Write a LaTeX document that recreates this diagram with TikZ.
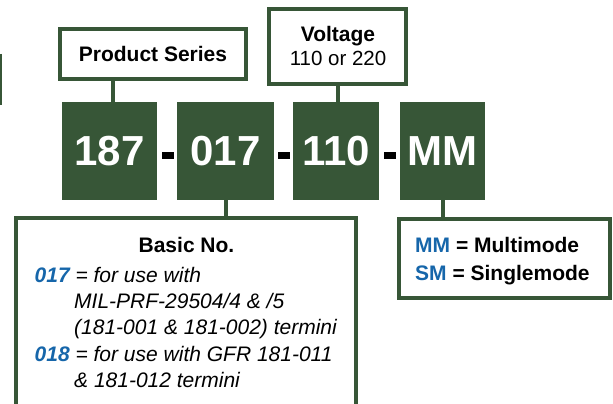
\documentclass[tikz,border=0pt]{standalone}
\usepackage{fontspec}
\setmainfont{Liberation Sans}
\definecolor{dg}{RGB}{55,86,55}
\definecolor{cb}{RGB}{22,102,170}
\begin{document}
\begin{tikzpicture}[x=1pt,y=-1pt,
 wbox/.style={draw=dg,line width=4pt,fill=white,inner sep=0pt},
 gbox/.style={fill=dg,draw=none,inner sep=0pt,minimum height=98pt,text=white,font=\fontsize{42}{42}\selectfont\bfseries},
 conn/.style={draw=dg,line width=4pt},
 dashbox/.style={fill=black,draw=none,inner sep=0pt,minimum width=12pt,minimum height=7pt},
 lbl/.style={font=\fontsize{21}{25}\selectfont\bfseries,inner sep=0pt},
 reg/.style={font=\fontsize{20.5}{25}\selectfont,inner sep=0pt},
 itl/.style={font=\fontsize{21}{25}\selectfont\itshape,inner sep=0pt,anchor=base west},
]
\useasboundingbox (0,0) rectangle (613,404);
% stray edge at far left
\draw[dg,line width=2pt] (1,54) -- (1,105);

% top label boxes
\node[wbox,minimum width=186pt,minimum height=50pt] (ps) at (153,54) {};
\node[lbl,anchor=base] (pst) at (153,62) {Product Series};
\node[wbox,minimum width=137pt,minimum height=75pt] (vb) at (337.5,46.5) {};
\node[lbl,anchor=base] (vt1) at (338,42) {Voltage};
\node[reg,anchor=base] (vt2) at (338,66) {110 or 220};

% part number boxes
\node[gbox,minimum width=95pt] (b1) at (109.5,151) {187};
\node[gbox,minimum width=97pt] (b2) at (225.5,151) {017};
\node[gbox,minimum width=86pt] (b3) at (336,151) {110};
\node[gbox,minimum width=85pt] (b4) at (442.5,151) {MM};
\node[dashbox] (d1) at (168,155.5) {};
\node[dashbox] (d2) at (284,155.5) {};
\node[dashbox] (d3) at (390,155.5) {};

% bottom boxes
\node[inner sep=0pt,minimum width=340pt,minimum height=190pt] (bn) at (186,313) {};
\draw[conn,fill=white] (bn.south west) -- (bn.north west) -- (bn.north east) -- (bn.south east);
\node[wbox,minimum width=211pt,minimum height=79pt] (mm) at (504.5,258.5) {};

% connectors
\coordinate (k1) at (113,0);
\draw[conn] (ps.south -| k1) -- (b1.north -| k1);
\draw[conn] (vb.south) -- (vb.south |- b3.north);
\draw[conn] (b2.south) -- (b2.south |- bn.north);
\draw[conn] (b4.south) -- (b4.south |- mm.north);

% Basic No. text
\node[lbl,anchor=base] (bnt) at (186.5,252) {Basic No.};
\node[itl] (l1) at (34.5,282) {{\bfseries\color{cb}017} = for use with};
\node[itl] (l2) at (74,308) {MIL-PRF-29504/4 \& /5};
\node[itl] (l3) at (74,334) {(181-001 \& 181-002) termini};
\node[itl] (l4) at (34.5,361) {{\bfseries\color{cb}018} = for use with GFR 181-011};
\node[itl] (l5) at (74,387) {\& 181-012 termini};

% mode text
\node[lbl,anchor=base west] (m1) at (415,252) {{\color{cb}MM} = Multimode};
\node[lbl,anchor=base west] (m2) at (415,280) {{\color{cb}SM} = Singlemode};
\end{tikzpicture}
\end{document}
